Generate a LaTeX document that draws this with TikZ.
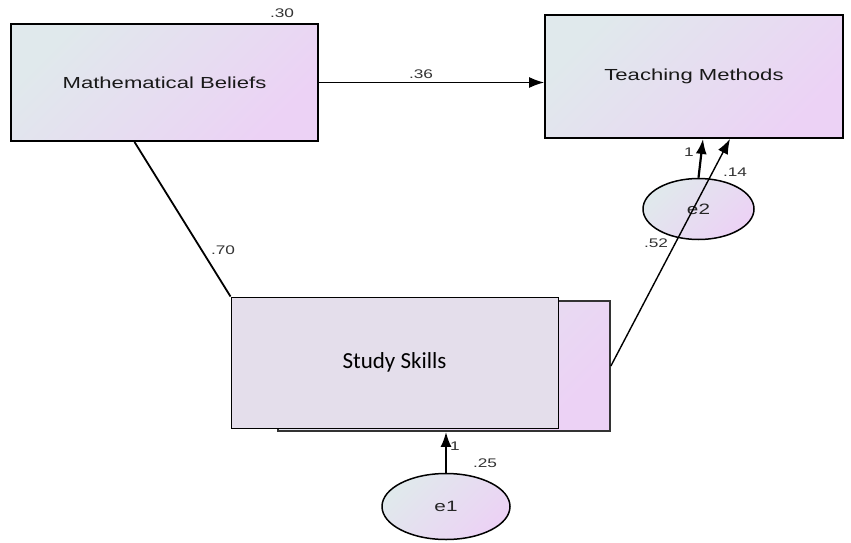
\documentclass[tikz,border=0pt]{standalone}
\usepackage{fontspec}
\usetikzlibrary{arrows.meta,shapes.geometric}
\newfontfamily\amosfont[FakeStretch=1.38]{Liberation Sans}
\newfontfamily\skillfont{Carlito}
\definecolor{shadeA}{RGB}{224,233,236}
\definecolor{shadeB}{RGB}{236,210,245}
\definecolor{flatbox}{RGB}{228,222,235}
\tikzstyle{var}=[rectangle,draw=black,line width=1.9pt,top color=shadeA,bottom color=shadeB,shading angle=45,inner sep=0pt,text=black!90,font=\amosfont\fontsize{16}{18}\selectfont]
\tikzstyle{err}=[ellipse,draw=black,line width=1.5pt,top color=shadeA,bottom color=shadeB,shading angle=45,inner sep=0pt,text=black!85,font=\amosfont\fontsize{15}{17}\selectfont]
\tikzstyle{coef}=[inner sep=0pt,text=black!80,font=\amosfont\fontsize{12.5}{14}\selectfont]
\tikzstyle{link}=[line width=1.8pt]
\tikzstyle{arr}=[line width=1.8pt,-{Latex[length=15pt,width=11pt]}]

\begin{document}
\begin{tikzpicture}[x=1pt,y=-1pt]
\useasboundingbox (0,0) rectangle (851,543);
\node (mb) at (164.5,82.5) [var,minimum width=307pt,minimum height=117pt] {Mathematical Beliefs};
\node (tm) at (694,76.5) [var,minimum width=298pt,minimum height=123pt] {Teaching Methods};
\node (ssb) at (444,366) [var,line width=1.7pt,draw=black!80,minimum width=332pt,minimum height=130pt] {};
\node (ss) at (394.5,362.5) [rectangle,draw=black,line width=1pt,fill=flatbox,minimum width=327pt,minimum height=131pt,font=\skillfont\fontsize{23}{27}\selectfont] {Study Skills};
\node (e2) at (698.5,209) [err,minimum width=111pt,minimum height=61pt] {e2};
\node (e1) at (446,506.5) [err,minimum width=128pt,minimum height=66pt] {e1};

\draw[arr,line width=1.3pt] (mb.east) -- (mb.east -| tm.west);
\draw[link] ([xshift=-30pt]mb.south) -- (ss.north west);
\draw[arr,line width=2.2pt] (e2.north) -- ([xshift=9pt]tm.south);
\draw[arr,line width=1.4pt] (ssb.east) -- ([xshift=36pt]tm.south);
\draw[arr,line width=2.2pt] (e1.north) -- (e1.north |- ssb.south);

\node (l30) at (282,13) [coef] {.30};
\node (l36) at (421,74) [coef] {.36};
\node (l70) at (223,250) [coef] {.70};
\node (l52) at (656,243) [coef] {.52};
\node (l14) at (735,172) [coef] {.14};
\node (l1a) at (689,152) [coef] {1};
\node (l1b) at (455,446) [coef] {1};
\node (l25) at (485,463) [coef] {.25};
\end{tikzpicture}
\end{document}
